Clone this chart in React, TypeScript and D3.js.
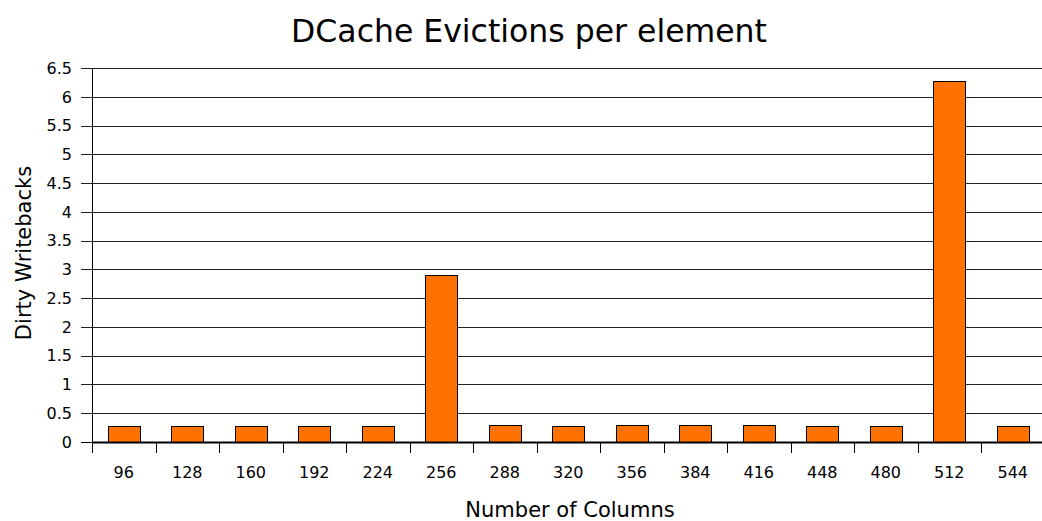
import React, { useEffect, useRef } from 'react';
import * as d3 from 'd3';

// Données
const columns: string[] = ['96', '128', '160', '192', '224', '256', '288', '320', '356', '384', '416', '448', '480', '512', '544'];
const dirtyWritebacks: number[] = [0.28, 0.28, 0.28, 0.28, 0.27, 2.91, 0.29, 0.27, 0.3, 0.29, 0.3, 0.27, 0.27, 6.27, 0.27];
const yTicks: number[] = [0, 0.5, 1, 1.5, 2, 2.5, 3, 3.5, 4, 4.5, 5, 5.5, 6, 6.5];

export default function App() {
    const ref = useRef<SVGSVGElement>(null);

    useEffect(() => {
        const width = 1042;
        const height = 521;
        const margin = { top: 68, left: 92, bottom: 442 };
        const plotRight = 1044.5;
        const font = 'DejaVu Sans, sans-serif';

        const svg = d3.select(ref.current);
        svg.selectAll('*').remove();
        svg.attr('width', width).attr('height', height);

        const x = d3.scaleBand<string>()
            .domain(columns)
            .range([margin.left, plotRight])
            .paddingInner(0.5)
            .paddingOuter(0.25);

        const y = d3.scaleLinear()
            .domain([0, 6.5])
            .range([margin.bottom, margin.top]);

        // lignes de grille horizontales (et petits traits à gauche)
        svg.append('g')
            .selectAll('line')
            .data(yTicks)
            .enter()
            .append('line')
            .attr('x1', 81)
            .attr('x2', plotRight)
            .attr('y1', d => Math.round(y(d)) + 0.5)
            .attr('y2', d => Math.round(y(d)) + 0.5)
            .attr('stroke', d => (d === 0 ? '#000' : '#222'))
            .attr('stroke-width', 1);

        // libellés de l'axe Y
        svg.append('g')
            .selectAll('text')
            .data(yTicks)
            .enter()
            .append('text')
            .attr('x', 72)
            .attr('y', d => y(d))
            .attr('dy', '0.36em')
            .attr('text-anchor', 'end')
            .attr('font-family', font)
            .attr('font-size', 16)
            .attr('fill', '#000')
            .text(d => String(d));

        // barres
        svg.append('g')
            .selectAll('rect')
            .data(dirtyWritebacks)
            .enter()
            .append('rect')
            .attr('x', (d, i) => Math.round(x(columns[i]) as number) + 0.5)
            .attr('y', d => Math.round(y(d)) + 0.5)
            .attr('width', Math.round(x.bandwidth()))
            .attr('height', d => Math.round(y(0)) - Math.round(y(d)))
            .attr('fill', '#ff7200')
            .attr('stroke', '#000')
            .attr('stroke-width', 1);

        // axe Y
        svg.append('line')
            .attr('x1', margin.left + 0.5)
            .attr('x2', margin.left + 0.5)
            .attr('y1', margin.top)
            .attr('y2', margin.bottom + 11)
            .attr('stroke', '#000');

        // axe X : traits entre les catégories
        const step = x.step();
        const boundaries = d3.range(columns.length + 1).map(i => margin.left + i * step);
        svg.append('g')
            .selectAll('line')
            .data(boundaries)
            .enter()
            .append('line')
            .attr('x1', d => Math.round(d) + 0.5)
            .attr('x2', d => Math.round(d) + 0.5)
            .attr('y1', margin.bottom)
            .attr('y2', margin.bottom + 11)
            .attr('stroke', '#000');

        svg.append('line')
            .attr('x1', margin.left)
            .attr('x2', plotRight)
            .attr('y1', margin.bottom + 0.5)
            .attr('y2', margin.bottom + 0.5)
            .attr('stroke', '#000')
            .attr('stroke-width', 2);

        // libellés de l'axe X
        svg.append('g')
            .selectAll('text')
            .data(columns)
            .enter()
            .append('text')
            .attr('x', d => (x(d) as number) + x.bandwidth() / 2)
            .attr('y', 478)
            .attr('text-anchor', 'middle')
            .attr('font-family', font)
            .attr('font-size', 16)
            .attr('fill', '#000')
            .text(d => d);

        // titres
        svg.append('text')
            .attr('x', 529)
            .attr('y', 42)
            .attr('text-anchor', 'middle')
            .attr('font-family', font)
            .attr('font-size', 31.5)
            .text('DCache Evictions per element');

        svg.append('text')
            .attr('x', 570)
            .attr('y', 517)
            .attr('text-anchor', 'middle')
            .attr('font-family', font)
            .attr('font-size', 21)
            .text('Number of Columns');

        svg.append('text')
            .attr('transform', 'translate(31,253) rotate(-90)')
            .attr('text-anchor', 'middle')
            .attr('font-family', font)
            .attr('font-size', 21)
            .text('Dirty Writebacks');
    }, []);

    return (
        <div>
            <svg ref={ref} style={{ position: 'absolute', left: 0, top: 0, display: 'block' }} />
        </div>
    );
}
